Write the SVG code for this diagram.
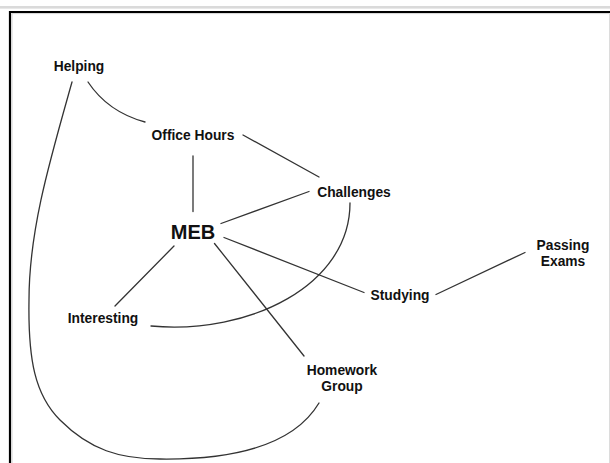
<svg xmlns="http://www.w3.org/2000/svg" width="610" height="463" viewBox="0 0 610 463">
<style>
.lbl{font-family:"Liberation Sans",Arial,Helvetica,sans-serif;font-weight:bold;font-size:13.8px;fill:#111;text-anchor:middle}
.big{font-size:20px}
.edge{fill:none;stroke:#333;stroke-width:1.3;stroke-linecap:round}
</style>
<rect x="0" y="0" width="610" height="463" fill="#fff"/>
<rect x="0" y="6" width="610" height="2.6" fill="#dadada"/>
<path d="M10,470 V12 H615" fill="none" stroke="#000" stroke-width="2.2"/>
<path d="M12,470 V13.6 H615" fill="none" stroke="#c8c8c8" stroke-width="0.8"/>
<line x1="609.5" y1="13" x2="609.5" y2="463" stroke="#dcdcdc" stroke-width="1"/>
<g id="connectors">
<path class="edge" d="M88,82 Q108,112 145,122"/>
<line class="edge" x1="243" y1="135" x2="319" y2="177"/>
<line class="edge" x1="193" y1="156" x2="193" y2="211.5"/>
<line class="edge" x1="221" y1="223.5" x2="309" y2="191.5"/>
<line class="edge" x1="224" y1="237.5" x2="364" y2="292.5"/>
<line class="edge" x1="436" y1="294.5" x2="525" y2="252.5"/>
<line class="edge" x1="214.5" y1="243.5" x2="304" y2="356"/>
<line class="edge" x1="174" y1="246" x2="115" y2="306"/>
<path class="edge" d="M350,203 C350,285 250,335 151,326"/>
<path class="edge" d="M72,82 C50,160 29,230 29,300 C28,360 35,395 60,420 C90,450 120,459 160,459 C240,460 295,443 319,403"/>
</g>
<g id="helping"><text class="lbl" x="79" y="70.5">Helping</text></g>
<g id="office-hours"><text class="lbl" x="193" y="140">Office Hours</text></g>
<g id="meb"><text class="lbl big" x="193" y="239">MEB</text></g>
<g id="challenges"><text class="lbl" x="354" y="196.5">Challenges</text></g>
<g id="passing-exams"><text class="lbl" x="563" y="250">Passing</text><text class="lbl" x="563" y="266">Exams</text></g>
<g id="studying"><text class="lbl" x="400" y="300">Studying</text></g>
<g id="interesting"><text class="lbl" x="103" y="323">Interesting</text></g>
<g id="homework-group"><text class="lbl" x="342" y="375">Homework</text><text class="lbl" x="342" y="390.5">Group</text></g>
</svg>
